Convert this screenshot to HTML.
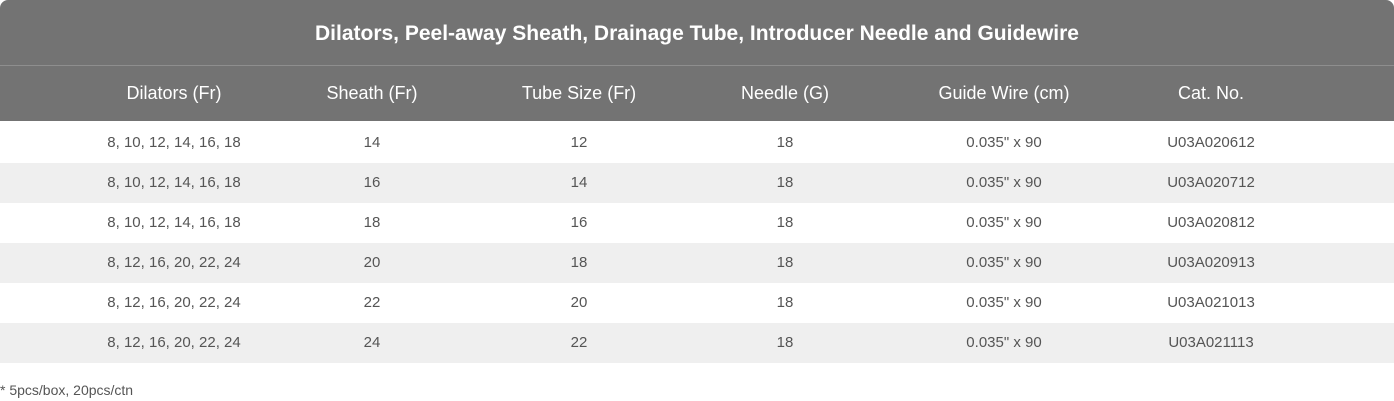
<!DOCTYPE html>
<html><head><meta charset="utf-8"><style>
body{margin:0;width:1394px;height:401px;background:#fff;font-family:"Liberation Sans",sans-serif;position:relative;overflow:hidden}
.hdr{position:absolute;left:0;top:0;width:1394px;height:121px;background:#737373;border-radius:8px 8px 0 0}
.title{position:absolute;left:0;top:0;width:1394px;height:65px;line-height:68px;text-align:center;color:#fff;font-weight:bold;font-size:21px}
.div{position:absolute;left:0;top:65px;width:1394px;height:1px;background:#8e8e8e}
.c{position:absolute;transform:translateX(-50%);white-space:nowrap}
.hc{top:66px;height:55px;line-height:55px;color:#fff;font-size:18px}
.row{position:absolute;left:0;width:1394px;height:40px}
.row .c{line-height:40px;color:#555;font-size:15px;top:0}
.foot{position:absolute;left:0;top:382px;font-size:14px;color:#555}
</style></head><body>
<div class="hdr">
<div class="title">Dilators, Peel-away Sheath, Drainage Tube, Introducer Needle and Guidewire</div>
<div class="div"></div>
<div class="c hc" style="left:174px">Dilators (Fr)</div>
<div class="c hc" style="left:372px">Sheath (Fr)</div>
<div class="c hc" style="left:579px">Tube Size (Fr)</div>
<div class="c hc" style="left:785px">Needle (G)</div>
<div class="c hc" style="left:1004px">Guide Wire (cm)</div>
<div class="c hc" style="left:1211px">Cat. No.</div>
</div>
<div id="rows"></div>
<div class="foot">* 5pcs/box, 20pcs/ctn</div>
<script>
const dilators=["8, 10, 12, 14, 16, 18","8, 10, 12, 14, 16, 18","8, 10, 12, 14, 16, 18","8, 12, 16, 20, 22, 24","8, 12, 16, 20, 22, 24","8, 12, 16, 20, 22, 24"];
const sheath=["14","16","18","20","22","24"];
const tube=["12","14","16","18","20","22"];
const needle=["18","18","18","18","18","18"];
const wire=["0.035\" x 90","0.035\" x 90","0.035\" x 90","0.035\" x 90","0.035\" x 90","0.035\" x 90"];
const cat=["U03A020612","U03A020712","U03A020812","U03A020913","U03A021013","U03A021113"];
const cols=[dilators,sheath,tube,needle,wire,cat];
const centers=[174,372,579,785,1004,1211];
const names=["dilators","sheath","tube-size","needle","guide-wire","cat-no"];
const host=document.getElementById('rows');
for(let i=0;i<cat.length;i++){
 const r=document.createElement('div');
 r.className='row';
 r.style.top=(123+i*40)+'px';
 r.style.background=i%2?'#efefef':'#fff';
 
 
 for(let j=0;j<cols.length;j++){
  const c=document.createElement('div');
  c.className='c';
  c.style.left=centers[j]+'px';
  c.textContent=cols[j][i];
  
  
  r.appendChild(c);
 }
 host.appendChild(r);
}
</script>
</body></html>
